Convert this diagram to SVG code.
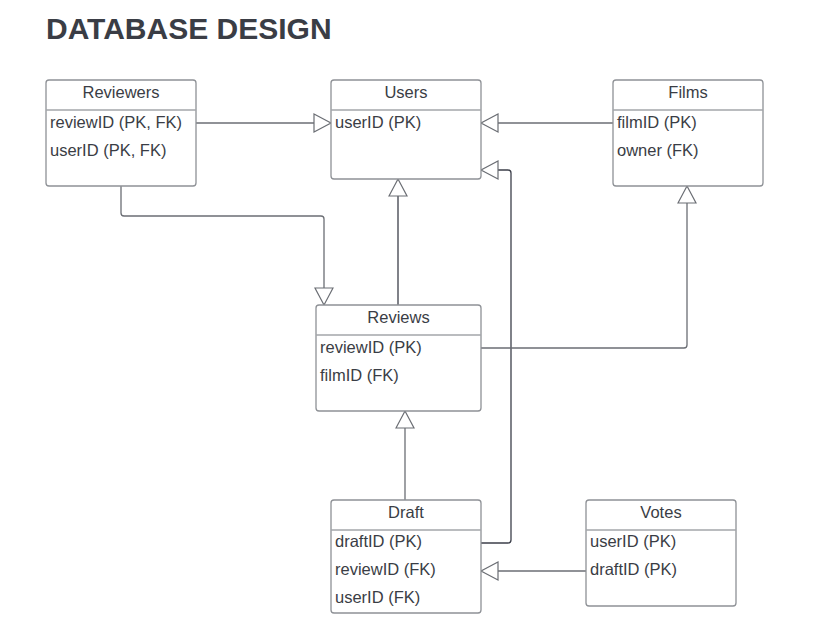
<svg xmlns="http://www.w3.org/2000/svg" width="840" height="632" viewBox="0 0 840 632">
<defs>
<style>
.box{fill:#ffffff;stroke:#8e9196;stroke-width:1.3}
.div{stroke:#a3a6aa;stroke-width:1.5}
.hd{font-family:"Liberation Sans",Arial,sans-serif;font-size:16.5px;fill:#3a3d45;text-anchor:middle}
.fd{font-family:"Liberation Sans",Arial,sans-serif;font-size:16.5px;fill:#3a3d45}
.title{font-family:"Liberation Sans",Arial,sans-serif;font-size:30px;font-weight:bold;fill:#3a3d45}
.c{fill:none;stroke:#6b6e74;stroke-width:1.3}
.cd{fill:none;stroke:#3c3f4a;stroke-width:1.3}
</style>
<marker id="tri" markerUnits="userSpaceOnUse" markerWidth="20" markerHeight="20" viewBox="0 0 20 20" refX="18" refY="10" orient="auto">
<path d="M1,1 L18,10 L1,19 Z" fill="#ffffff" stroke="#6b6e74" stroke-width="1.2"/>
</marker>
</defs>
<rect width="840" height="632" fill="#ffffff"/>
<text class="title" x="46" y="39">DATABASE DESIGN</text>

<g id="connectors">
<path class="c" d="M196,123 H331" marker-end="url(#tri)"/>
<path class="c" d="M613,123 H481" marker-end="url(#tri)"/>
<path class="cd" d="M481,543 H508 Q511,543 511,540 V173 Q511,170 508,170 H481" marker-end="url(#tri)"/>
<path class="c" d="M121,186 V213 Q121,216 124,216 H321 Q324,216 324,219 V305" marker-end="url(#tri)"/>
<path class="cd" d="M398,305 V179" marker-end="url(#tri)"/>
<path class="c" d="M481,348 H684 Q687,348 687,345 V186" marker-end="url(#tri)"/>
<path class="c" d="M405,500 V411" marker-end="url(#tri)"/>
<path class="c" d="M586,571 H481" marker-end="url(#tri)"/>
</g>

<g id="reviewers">
<rect class="box" x="46" y="80" width="150" height="106" rx="3"/>
<line class="div" x1="46" y1="110" x2="196" y2="110"/>
<text class="hd" x="121" y="98">Reviewers</text>
<text class="fd" x="50" y="128">reviewID (PK, FK)</text>
<text class="fd" x="50" y="156">userID (PK, FK)</text>
</g>

<g id="users">
<rect class="box" x="331" y="80" width="150" height="99" rx="3"/>
<line class="div" x1="331" y1="110" x2="481" y2="110"/>
<text class="hd" x="406" y="98">Users</text>
<text class="fd" x="335" y="128">userID (PK)</text>
</g>

<g id="films">
<rect class="box" x="613" y="80" width="150" height="106" rx="3"/>
<line class="div" x1="613" y1="110" x2="763" y2="110"/>
<text class="hd" x="688" y="98">Films</text>
<text class="fd" x="617" y="128">filmID (PK)</text>
<text class="fd" x="617" y="156">owner (FK)</text>
</g>

<g id="reviews">
<rect class="box" x="316" y="305" width="165" height="106" rx="3"/>
<line class="div" x1="316" y1="335" x2="481" y2="335"/>
<text class="hd" x="398.5" y="323">Reviews</text>
<text class="fd" x="320" y="353">reviewID (PK)</text>
<text class="fd" x="320" y="381">filmID (FK)</text>
</g>

<g id="draft">
<rect class="box" x="331" y="500" width="150" height="113" rx="3"/>
<line class="div" x1="331" y1="530" x2="481" y2="530"/>
<text class="hd" x="406" y="518">Draft</text>
<text class="fd" x="335" y="547">draftID (PK)</text>
<text class="fd" x="335" y="575">reviewID (FK)</text>
<text class="fd" x="335" y="603">userID (FK)</text>
</g>

<g id="votes">
<rect class="box" x="586" y="500" width="150" height="106" rx="3"/>
<line class="div" x1="586" y1="530" x2="736" y2="530"/>
<text class="hd" x="661" y="518">Votes</text>
<text class="fd" x="590" y="547">userID (PK)</text>
<text class="fd" x="590" y="575">draftID (PK)</text>
</g>
</svg>
